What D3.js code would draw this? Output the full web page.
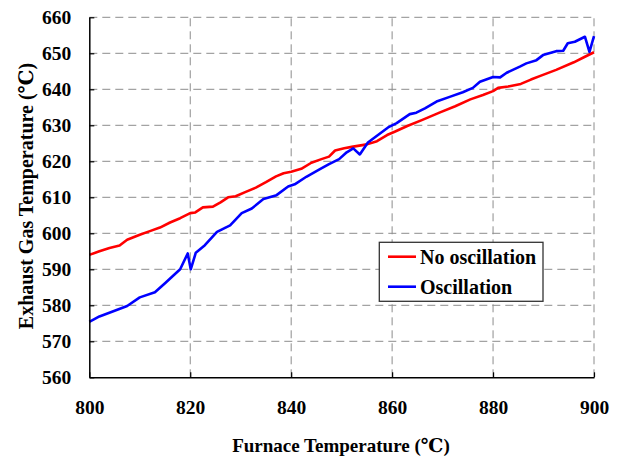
<!DOCTYPE html>
<html>
<head>
<meta charset="utf-8">
<script src="https://cdn.jsdelivr.net/npm/d3@7"></script>
<style>
  body { margin: 0; background: #fff; }
</style>
</head>
<body>
<div id="chart"></div>
<script>
// furnace temperature (C) vs exhaust gas temperature (C)
const noOscT = [800, 802, 804, 806, 807.5, 810, 812, 814, 816, 818, 820, 821, 822.5, 824.5, 826, 827.5, 829, 831, 833, 835, 837, 838.5, 840, 842, 844, 846, 847.5, 848.7, 850.5, 852, 855, 857, 859, 860.5, 863, 866, 869.5, 872.5, 875.5, 878, 880, 881, 883, 885.5, 887.5, 889.5, 892.5, 896, 898, 900];
const noOscV = [594.0, 595.0, 595.9, 596.6, 598.2, 599.6, 600.6, 601.6, 603.0, 604.2, 605.6, 605.8, 607.2, 607.4, 608.6, 610.0, 610.3, 611.5, 612.7, 614.2, 615.8, 616.7, 617.1, 617.9, 619.6, 620.6, 621.3, 623.0, 623.6, 624.0, 624.7, 625.6, 627.3, 628.2, 629.8, 631.5, 633.6, 635.3, 637.2, 638.4, 639.5, 640.4, 640.8, 641.5, 642.7, 643.8, 645.4, 647.5, 648.9, 650.3];

const oscT = [800, 802, 804.5, 807.5, 810, 813, 815, 818, 819.5, 820.1, 821.1, 822.9, 825.3, 827.9, 830.2, 832.2, 834.5, 837.1, 839.4, 840.7, 843, 845.7, 847.5, 849.5, 851, 852.3, 853.6, 855.2, 857.2, 859.2, 860.9, 863.5, 864.8, 866.5, 868.8, 871.4, 874, 876, 877.4, 880, 881.4, 882.7, 885.3, 886.6, 888.6, 889.9, 892.5, 893.9, 894.8, 896.2, 898.2, 899.1, 900];
const oscV = [575.4, 576.9, 578.2, 579.8, 582.2, 583.6, 586.1, 590.0, 594.4, 590.0, 594.6, 596.7, 600.4, 602.2, 605.6, 606.9, 609.5, 610.6, 613.0, 613.6, 615.7, 617.8, 619.2, 620.6, 622.5, 623.6, 621.9, 625.2, 627.3, 629.4, 630.6, 633.1, 633.5, 634.7, 636.6, 637.9, 639.2, 640.4, 642.1, 643.4, 643.3, 644.6, 646.3, 647.2, 648.1, 649.5, 650.6, 650.7, 652.8, 653.2, 654.6, 650.4, 654.8];

const xTicks = [800, 820, 840, 860, 880, 900];
const yTicks = [560, 570, 580, 590, 600, 610, 620, 630, 640, 650, 660];
const seriesNames = ["No oscillation", "Oscillation"];
const seriesColors = ["#ff0000", "#0000ff"];

const FONT = "'Liberation Serif', 'DejaVu Serif', 'Times New Roman', serif";
const W = 621, H = 456;
const margin = { left: 89.3, right: 27, top: 17.3, bottom: 78.7 };

const svg = d3.select("#chart").append("svg")
  .attr("width", W).attr("height", H)
  .style("font-family", FONT);

const x = d3.scaleLinear().domain([800, 900]).range([margin.left, W - margin.right]);
const y = d3.scaleLinear().domain([560, 660]).range([H - margin.bottom, margin.top]);

// grid
const grid = svg.append("g").attr("stroke", "#8c8c8c").attr("stroke-width", 1).attr("stroke-dasharray", "8,5");
grid.selectAll(".gx").data(xTicks.slice(1)).join("line")
  .attr("x1", d => x(d)).attr("x2", d => x(d))
  .attr("y1", y(560)).attr("y2", y(660));
grid.selectAll(".gy").data(yTicks.slice(1)).join("line")
  .attr("x1", x(800)).attr("x2", x(900))
  .attr("y1", d => y(d)).attr("y2", d => y(d));

// lines
const line = d3.line().x(d => x(d[0])).y(d => y(d[1]));
const series = [d3.zip(noOscT, noOscV), d3.zip(oscT, oscV)];
series.forEach((s, i) => {
  svg.append("path")
    .datum(s)
    .attr("fill", "none")
    .attr("stroke", seriesColors[i])
    .attr("stroke-width", 2.6)
    .attr("stroke-linejoin", "round")
    .attr("d", line);
});

// axes
const xAxis = svg.append("g")
  .attr("transform", `translate(0,${y(560)})`)
  .call(d3.axisBottom(x).tickValues(xTicks).tickSize(-5).tickSizeOuter(0).tickPadding(23));
const yAxis = svg.append("g")
  .attr("transform", `translate(${x(800)},0)`)
  .call(d3.axisLeft(y).tickValues(yTicks).tickSize(-5).tickSizeOuter(0).tickPadding(18));

[xAxis, yAxis].forEach(a => {
  a.attr("font-family", FONT).attr("font-size", 19.5);
  a.select(".domain").attr("stroke", "#000").attr("stroke-width", 1.5);
  a.selectAll(".tick line").attr("stroke", "#000").attr("stroke-width", 1.2);
  a.selectAll("text").attr("font-family", FONT).attr("font-weight", "bold").attr("font-size", 19.5).attr("fill", "#000");
});

function label(sel) {
  return sel.attr("font-family", FONT).attr("font-weight", "bold").attr("fill", "#000");
}

// axis titles
label(svg.append("text"))
  .attr("x", 341).attr("y", 451.5)
  .attr("text-anchor", "middle")
  .attr("font-size", 19)
  .text("Furnace Temperature (℃)");

label(svg.append("text"))
  .attr("transform", "translate(33,196) rotate(-90)")
  .attr("text-anchor", "middle")
  .attr("font-size", 20)
  .text("Exhaust Gas Temperature (℃)");

// legend
const lg = svg.append("g");
lg.append("rect")
  .attr("x", 379.3).attr("y", 242.3)
  .attr("width", 163.7).attr("height", 59)
  .attr("fill", "#fff").attr("stroke", "#333").attr("stroke-width", 1.3);
seriesNames.forEach((n, i) => {
  const cy = 256.7 + i * 30;
  lg.append("line")
    .attr("x1", 388).attr("x2", 416)
    .attr("y1", cy).attr("y2", cy)
    .attr("stroke", seriesColors[i]).attr("stroke-width", 2.6);
  label(lg.append("text"))
    .attr("x", 420).attr("y", cy + 7.5)
    .attr("font-size", 20)
    .text(n);
});
</script>
</body>
</html>
